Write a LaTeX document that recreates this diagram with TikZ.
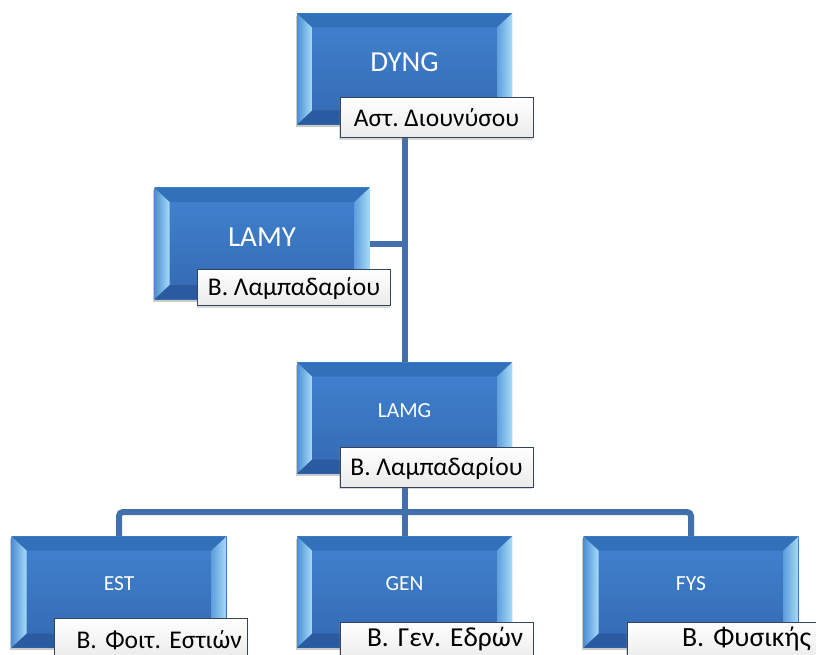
\documentclass[tikz,border=0pt]{standalone}
\usepackage{fontspec}
\setmainfont{Carlito}
\frenchspacing
\usetikzlibrary{shadows,backgrounds,calc}
\definecolor{boxtop}{HTML}{4183D0}
\definecolor{boxbot}{HTML}{3469B2}
\definecolor{bevtop}{HTML}{3270B9}
\definecolor{bevbot}{HTML}{2A5AA0}
\definecolor{bevlo}{HTML}{4E8ED6}
\definecolor{bevhi}{HTML}{A6DCF8}
\definecolor{conn}{HTML}{4170AC}
\definecolor{lblline}{HTML}{34435E}
\tikzset{
  x=1pt,y=-1pt,
  bevbox/.style={rectangle, minimum width=215pt, minimum height=111pt, inner sep=0pt,
    top color=boxtop, bottom color=boxbot,
    drop shadow={shadow xshift=-1.5pt, shadow yshift=-2.5pt, opacity=0.35, fill=black!60},
    path picture={
      \coordinate (ppnw) at (path picture bounding box.north west);
      \coordinate (ppne) at (path picture bounding box.north east);
      \coordinate (ppsw) at (path picture bounding box.south west);
      \coordinate (ppse) at (path picture bounding box.south east);
      \fill[bevtop] (ppnw) -- (ppne) -- ([shift={(-15pt,-14pt)}]ppne) -- ([shift={(15pt,-14pt)}]ppnw) -- cycle;
      \fill[bevbot] (ppsw) -- (ppse) -- ([shift={(-15pt,14pt)}]ppse) -- ([shift={(15pt,14pt)}]ppsw) -- cycle;
      \shade[left color=bevlo, right color=bevhi] (ppnw) -- ([shift={(15pt,-14pt)}]ppnw) -- ([shift={(15pt,14pt)}]ppsw) -- (ppsw) -- cycle;
      \shade[left color=bevlo!80!bevhi, right color=bevhi] (ppne) -- ([shift={(-15pt,-14pt)}]ppne) -- ([shift={(-15pt,14pt)}]ppse) -- (ppse) -- cycle;
    }},
  bigtitle/.style={text=white, font=\fontsize{29}{31}\selectfont, inner sep=0pt, text height=18.5pt, text depth=0pt},
  smalltitle/.style={text=white, font=\fontsize{21.5}{23}\selectfont, inner sep=0pt, text height=13.8pt, text depth=0pt},
  lbl/.style={rectangle, draw=lblline, line width=1pt, minimum width=193pt, minimum height=40pt,
    inner sep=0pt, top color=white, bottom color=black!8,
    font=\fontsize{25.5}{27}\selectfont, text height=16.5pt, text depth=0pt,
    drop shadow={shadow xshift=-1pt, shadow yshift=-2pt, opacity=0.3}},
  lowlbl/.style={lbl, text width=193pt, align=left},
  connector/.style={draw=conn, line width=6pt, rounded corners=4pt}
}
\begin{document}
\begin{tikzpicture}
\useasboundingbox (0,0) rectangle (816,655);
% boxes
\node[bevbox] (dyng) at (404.5,69) {};
\node[bigtitle] (dyngT) at (404.5,62) {DYNG};
\node[lbl] (dyngL) at (436.5,118) {Αστ. Διουνύσου};

\node[bevbox] (lamy) at (262,243.5) {};
\node[bigtitle] (lamyT) at (262,237.5) {LAMY};
\node[lbl, minimum height=36pt] (lamyL) at (294,287.5) {Β. Λαμπαδαρίου};

\node[bevbox] (lamg) at (404.5,418) {};
\node[smalltitle] (lamgT) at (404.5,411) {LAMG};
\node[lbl] (lamgL) at (436.5,467) {Β. Λαμπαδαρίου};

\node[bevbox] (est) at (119,592) {};
\node[smalltitle] (estT) at (119,584) {EST};
\node[lowlbl, text height=20pt] (estL) at (151,638) {\hspace*{22pt}Β. Φοιτ. Εστιών};

\node[bevbox] (gen) at (404.5,592) {};
\node[smalltitle] (genT) at (404.5,584) {GEN};
\node[lowlbl, text height=8pt, font=\fontsize{27.4}{29}\selectfont] (genL) at (436.5,642) {\hspace*{27pt}Β. Γεν. Εδρών};

\node[bevbox] (fys) at (691,592) {};
\node[smalltitle] (fysT) at (691,584) {FYS};
\node[lowlbl, text height=8pt, font=\fontsize{27.8}{29}\selectfont] (fysL) at (723.5,642) {\hspace*{55pt}Β. Φυσικής};

\coordinate (bus) at (405,512);
\begin{pgfonlayer}{background}
\draw[connector] (dyng.south) -- (lamg.north);
\draw[connector] (lamy.east) -- (lamy.east -| dyng.south);
\draw[connector] (lamg.south) -- (gen.north);
\draw[connector] (est.north) -- (est.north |- bus) -- (fys.north |- bus) -- (fys.north);
\end{pgfonlayer}
\end{tikzpicture}
\end{document}
